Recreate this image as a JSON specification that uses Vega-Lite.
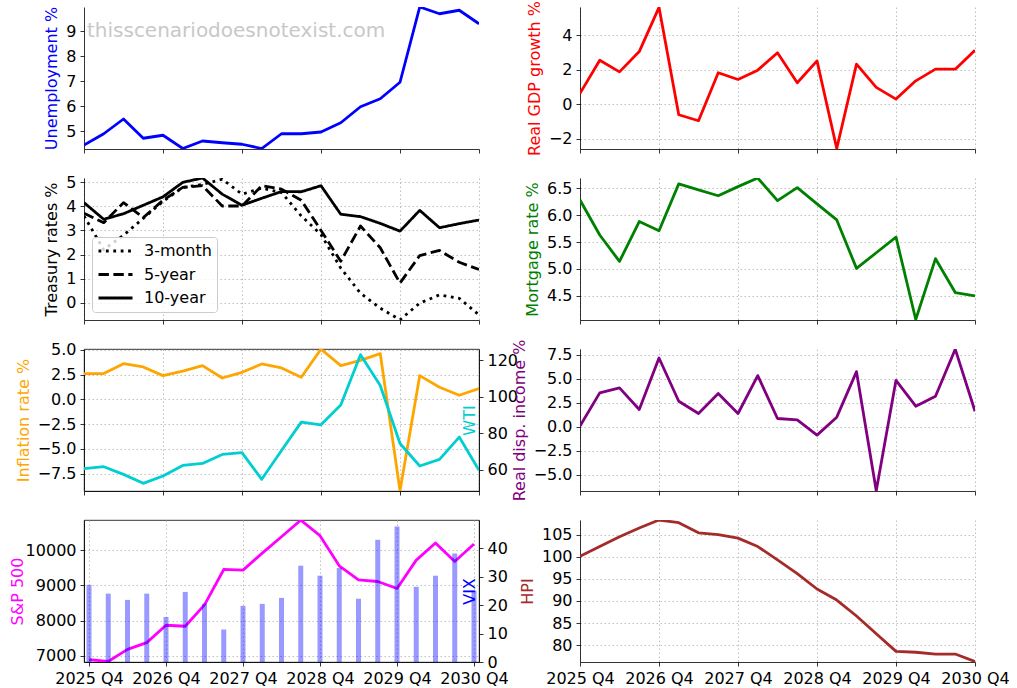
{
  "$schema": "https://vega.github.io/schema/vega-lite/v6.json",
  "padding": {"left": 8, "top": 0, "right": 5, "bottom": 5},
  "background": "white",
  "columns": 2,
  "spacing": {"row": 29, "column": 101},
  "bounds": "flush",
  "resolve": {"legend": {"strokeDash": "independent"}, "scale": {"strokeDash": "independent"}},
  "datasets": {
    "macro": [
      {"q": 0, "unemp": 4.44, "gdp": 0.62, "mort": 6.28, "infl": 2.59, "wti": 60.7, "rdi": 0.06, "sp": 6896, "vix": 27.1, "hpi": 100.1},
      {"q": 1, "unemp": 4.89, "gdp": 2.55, "mort": 5.63, "infl": 2.59, "wti": 61.8, "rdi": 3.52, "sp": 6845, "vix": 24.0, "hpi": 102.3},
      {"q": 2, "unemp": 5.48, "gdp": 1.87, "mort": 5.14, "infl": 3.59, "wti": 57.6, "rdi": 4.04, "sp": 7189, "vix": 21.8, "hpi": 104.5},
      {"q": 3, "unemp": 4.71, "gdp": 3.05, "mort": 5.88, "infl": 3.26, "wti": 52.7, "rdi": 1.79, "sp": 7379, "vix": 24.0, "hpi": 106.5},
      {"q": 4, "unemp": 4.83, "gdp": 5.62, "mort": 5.71, "infl": 2.39, "wti": 56.7, "rdi": 7.15, "sp": 7871, "vix": 15.8, "hpi": 108.3},
      {"q": 5, "unemp": 4.3, "gdp": -0.62, "mort": 6.58, "infl": 2.85, "wti": 62.5, "rdi": 2.65, "sp": 7842, "vix": 24.6, "hpi": 107.7},
      {"q": 6, "unemp": 4.6, "gdp": -0.97, "mort": 6.47, "infl": 3.39, "wti": 63.6, "rdi": 1.37, "sp": 8448, "vix": 20.5, "hpi": 105.4},
      {"q": 7, "unemp": 4.53, "gdp": 1.82, "mort": 6.36, "infl": 2.15, "wti": 68.5, "rdi": 3.45, "sp": 9451, "vix": 11.4, "hpi": 105.0},
      {"q": 8, "unemp": 4.47, "gdp": 1.43, "mort": 6.53, "infl": 2.72, "wti": 69.5, "rdi": 1.37, "sp": 9432, "vix": 19.7, "hpi": 104.2},
      {"q": 9, "unemp": 4.3, "gdp": 1.97, "mort": 6.69, "infl": 3.56, "wti": 54.9, "rdi": 5.32, "sp": 9915, "vix": 20.4, "hpi": 102.3},
      {"q": 10, "unemp": 4.89, "gdp": 2.98, "mort": 6.27, "infl": 3.16, "wti": 70.7, "rdi": 0.85, "sp": 10379, "vix": 22.5, "hpi": 99.3},
      {"q": 11, "unemp": 4.89, "gdp": 1.24, "mort": 6.51, "infl": 2.22, "wti": 86.2, "rdi": 0.71, "sp": 10848, "vix": 33.8, "hpi": 96.2},
      {"q": 12, "unemp": 4.96, "gdp": 2.51, "mort": 6.21, "infl": 5.05, "wti": 84.7, "rdi": -0.88, "sp": 10407, "vix": 30.3, "hpi": 92.7},
      {"q": 13, "unemp": 5.33, "gdp": -2.58, "mort": 5.91, "infl": 3.39, "wti": 95.6, "rdi": 0.99, "sp": 9555, "vix": 33.0, "hpi": 90.2},
      {"q": 14, "unemp": 5.97, "gdp": 2.32, "mort": 5.01, "infl": 3.93, "wti": 123.1, "rdi": 5.73, "sp": 9158, "vix": 22.2, "hpi": 86.6},
      {"q": 15, "unemp": 6.29, "gdp": 0.97, "mort": 5.3, "infl": 4.6, "wti": 106.2, "rdi": -6.68, "sp": 9110, "vix": 42.9, "hpi": 82.6},
      {"q": 16, "unemp": 6.95, "gdp": 0.29, "mort": 5.59, "infl": -9.22, "wti": 74.5, "rdi": 4.83, "sp": 8912, "vix": 47.6, "hpi": 78.6},
      {"q": 17, "unemp": 9.96, "gdp": 1.35, "mort": 4.06, "infl": 2.39, "wti": 62.2, "rdi": 2.13, "sp": 9716, "vix": 26.4, "hpi": 78.4},
      {"q": 18, "unemp": 9.69, "gdp": 2.03, "mort": 5.19, "infl": 1.21, "wti": 65.8, "rdi": 3.17, "sp": 10199, "vix": 30.3, "hpi": 78.0},
      {"q": 19, "unemp": 9.83, "gdp": 2.03, "mort": 4.56, "infl": 0.41, "wti": 78.0, "rdi": 8.07, "sp": 9678, "vix": 38.1, "hpi": 78.0},
      {"q": 20, "unemp": 9.29, "gdp": 3.13, "mort": 4.5, "infl": 1.08, "wti": 59.8, "rdi": 1.61, "sp": 10170, "vix": 25.0, "hpi": 76.3}
    ],
    "treasury": [
      {"q": 0, "tenor": "3-month", "rate": 3.6}, {"q": 1, "tenor": "3-month", "rate": 2.2}, {"q": 2, "tenor": "3-month", "rate": 2.8},
      {"q": 3, "tenor": "3-month", "rate": 3.5}, {"q": 4, "tenor": "3-month", "rate": 4.2}, {"q": 5, "tenor": "3-month", "rate": 4.78},
      {"q": 6, "tenor": "3-month", "rate": 4.9}, {"q": 7, "tenor": "3-month", "rate": 5.12}, {"q": 8, "tenor": "3-month", "rate": 4.5},
      {"q": 9, "tenor": "3-month", "rate": 4.75}, {"q": 10, "tenor": "3-month", "rate": 4.57}, {"q": 11, "tenor": "3-month", "rate": 3.6},
      {"q": 12, "tenor": "3-month", "rate": 2.83}, {"q": 13, "tenor": "3-month", "rate": 1.44}, {"q": 14, "tenor": "3-month", "rate": 0.4},
      {"q": 15, "tenor": "3-month", "rate": -0.22}, {"q": 16, "tenor": "3-month", "rate": -0.7}, {"q": 17, "tenor": "3-month", "rate": -0.01},
      {"q": 18, "tenor": "3-month", "rate": 0.33}, {"q": 19, "tenor": "3-month", "rate": 0.19}, {"q": 20, "tenor": "3-month", "rate": -0.5},
      {"q": 0, "tenor": "5-year", "rate": 3.71}, {"q": 1, "tenor": "5-year", "rate": 3.32}, {"q": 2, "tenor": "5-year", "rate": 4.15},
      {"q": 3, "tenor": "5-year", "rate": 3.53}, {"q": 4, "tenor": "5-year", "rate": 4.25}, {"q": 5, "tenor": "5-year", "rate": 4.78},
      {"q": 6, "tenor": "5-year", "rate": 4.85}, {"q": 7, "tenor": "5-year", "rate": 4.01}, {"q": 8, "tenor": "5-year", "rate": 4.01},
      {"q": 9, "tenor": "5-year", "rate": 4.85}, {"q": 10, "tenor": "5-year", "rate": 4.71}, {"q": 11, "tenor": "5-year", "rate": 4.25},
      {"q": 12, "tenor": "5-year", "rate": 3.0}, {"q": 13, "tenor": "5-year", "rate": 1.72}, {"q": 14, "tenor": "5-year", "rate": 3.18},
      {"q": 15, "tenor": "5-year", "rate": 2.28}, {"q": 16, "tenor": "5-year", "rate": 0.82}, {"q": 17, "tenor": "5-year", "rate": 1.96},
      {"q": 18, "tenor": "5-year", "rate": 2.17}, {"q": 19, "tenor": "5-year", "rate": 1.68}, {"q": 20, "tenor": "5-year", "rate": 1.38},
      {"q": 0, "tenor": "10-year", "rate": 4.15}, {"q": 1, "tenor": "10-year", "rate": 3.46}, {"q": 2, "tenor": "10-year", "rate": 3.69},
      {"q": 3, "tenor": "10-year", "rate": 4.04}, {"q": 4, "tenor": "10-year", "rate": 4.39}, {"q": 5, "tenor": "10-year", "rate": 4.99},
      {"q": 6, "tenor": "10-year", "rate": 5.17}, {"q": 7, "tenor": "10-year", "rate": 4.5}, {"q": 8, "tenor": "10-year", "rate": 4.04},
      {"q": 9, "tenor": "10-year", "rate": 4.33}, {"q": 10, "tenor": "10-year", "rate": 4.61}, {"q": 11, "tenor": "10-year", "rate": 4.6},
      {"q": 12, "tenor": "10-year", "rate": 4.85}, {"q": 13, "tenor": "10-year", "rate": 3.67}, {"q": 14, "tenor": "10-year", "rate": 3.57},
      {"q": 15, "tenor": "10-year", "rate": 3.29}, {"q": 16, "tenor": "10-year", "rate": 2.97}, {"q": 17, "tenor": "10-year", "rate": 3.83},
      {"q": 18, "tenor": "10-year", "rate": 3.11}, {"q": 19, "tenor": "10-year", "rate": 3.28}, {"q": 20, "tenor": "10-year", "rate": 3.43}
    ],
    "watermark": [{"label": "thisscenariodoesnotexist.com"}]
  },
  "concat": [
    {
      "width": 395, "height": 142,
      "layer": [
        {
          "data": {"name": "watermark"},
          "mark": {"type": "text", "align": "left", "baseline": "middle", "fontSize": 20, "font": "DejaVu Sans", "color": "#c8c8c8"},
          "encoding": {
            "x": {"datum": 0.15, "type": "quantitative", "scale": {"domain": [0, 20], "nice": false, "zero": false}, "axis": {"values": [0, 4, 8, 12, 16, 20], "labels": false, "title": null}},
            "y": {"datum": 9.0, "type": "quantitative", "scale": {"domain": [4.28, 9.96], "nice": false, "zero": false}, "axis": {"values": [5, 6, 7, 8, 9], "title": "Unemployment %", "titleColor": "blue"}},
            "text": {"field": "label"}
          }
        },
        {
          "data": {"name": "macro"},
          "mark": {"type": "line", "color": "blue", "strokeWidth": 2.8, "clip": true, "strokeJoin": "round"},
          "encoding": {
            "x": {"field": "q", "type": "quantitative", "scale": {"domain": [0, 20], "nice": false, "zero": false}, "axis": {"values": [0, 4, 8, 12, 16, 20], "labels": false, "title": null}},
            "y": {"field": "unemp", "type": "quantitative", "scale": {"domain": [4.28, 9.96], "nice": false, "zero": false}, "axis": {"values": [5, 6, 7, 8, 9], "title": "Unemployment %", "titleColor": "blue"}}
          }
        }
      ]
    },
    {
      "width": 395, "height": 142,
      "data": {"name": "macro"},
      "mark": {"type": "line", "color": "red", "strokeWidth": 2.8, "clip": true, "strokeJoin": "round"},
      "encoding": {
        "x": {"field": "q", "type": "quantitative", "scale": {"domain": [0, 20], "nice": false, "zero": false}, "axis": {"values": [0, 4, 8, 12, 16, 20], "labels": false, "title": null}},
        "y": {"field": "gdp", "type": "quantitative", "scale": {"domain": [-2.61, 5.64], "nice": false, "zero": false}, "axis": {"values": [-2, 0, 2, 4], "title": "Real GDP growth %", "titleColor": "red"}}
      }
    },
    {
      "width": 395, "height": 142,
      "data": {"name": "treasury"},
      "mark": {"type": "line", "color": "black", "strokeWidth": 2.8, "clip": true, "strokeJoin": "round"},
      "encoding": {
        "x": {"field": "q", "type": "quantitative", "scale": {"domain": [0, 20], "nice": false, "zero": false}, "axis": {"values": [0, 4, 8, 12, 16, 20], "labels": false, "title": null}},
        "y": {"field": "rate", "type": "quantitative", "scale": {"domain": [-0.71, 5.17], "nice": false, "zero": false}, "axis": {"values": [0, 1, 2, 3, 4, 5], "title": "Treasury rates %", "titleColor": "black"}},
        "strokeDash": {
          "field": "tenor", "type": "nominal",
          "scale": {"domain": ["3-month", "5-year", "10-year"], "range": [[2.8, 4.6], [10.4, 4.5], [1, 0]]},
          "legend": {
            "title": null, "orient": "bottom-left", "offset": 8, "padding": 5,
            "symbolType": "stroke", "symbolSize": 1156, "symbolStrokeWidth": 2.8, "symbolStrokeColor": "black",
            "labelFontSize": 16, "labelFont": "DejaVu Sans", "labelColor": "black", "labelOffset": 10,
            "clipHeight": 18, "rowPadding": 5.5,
            "strokeColor": "#cccccc", "fillColor": "rgba(255,255,255,0.8)", "cornerRadius": 3
          }
        }
      }
    },
    {
      "width": 395, "height": 142,
      "data": {"name": "macro"},
      "mark": {"type": "line", "color": "green", "strokeWidth": 2.8, "clip": true, "strokeJoin": "round"},
      "encoding": {
        "x": {"field": "q", "type": "quantitative", "scale": {"domain": [0, 20], "nice": false, "zero": false}, "axis": {"values": [0, 4, 8, 12, 16, 20], "labels": false, "title": null}},
        "y": {"field": "mort", "type": "quantitative", "scale": {"domain": [4.05, 6.69], "nice": false, "zero": false}, "axis": {"values": [4.5, 5, 5.5, 6, 6.5], "format": ".1f", "title": "Mortgage rate %", "titleColor": "green"}}
      }
    },
    {
      "width": 395, "height": 142,
      "data": {"name": "macro"},
      "view": {"stroke": "black", "strokeWidth": 0.8},
      "layer": [
        {
          "mark": {"type": "line", "color": "orange", "strokeWidth": 2.8, "clip": true, "strokeJoin": "round"},
          "encoding": {
            "x": {"field": "q", "type": "quantitative", "scale": {"domain": [0, 20], "nice": false, "zero": false}, "axis": {"values": [0, 4, 8, 12, 16, 20], "labels": false, "title": null}},
            "y": {"field": "infl", "type": "quantitative", "scale": {"domain": [-9.24, 5.07], "nice": false, "zero": false}, "axis": {"values": [-7.5, -5, -2.5, 0, 2.5, 5], "format": ".1f", "title": "Inflation rate %", "titleColor": "orange"}}
          }
        },
        {
          "mark": {"type": "line", "color": "darkturquoise", "strokeWidth": 2.8, "clip": true, "strokeJoin": "round"},
          "encoding": {
            "x": {"field": "q", "type": "quantitative"},
            "y": {"field": "wti", "type": "quantitative", "scale": {"domain": [48.5, 126.2], "nice": false, "zero": false}, "axis": {"orient": "right", "grid": false, "values": [60, 80, 100, 120], "title": "WTI", "titleColor": "darkturquoise", "titleAngle": 270, "titleX": -10, "titleY": 71, "titleBaseline": "middle", "titleAlign": "center"}}
          }
        }
      ],
      "resolve": {"scale": {"y": "independent"}}
    },
    {
      "width": 395, "height": 142,
      "data": {"name": "macro"},
      "mark": {"type": "line", "color": "purple", "strokeWidth": 2.8, "clip": true, "strokeJoin": "round"},
      "encoding": {
        "x": {"field": "q", "type": "quantitative", "scale": {"domain": [0, 20], "nice": false, "zero": false}, "axis": {"values": [0, 4, 8, 12, 16, 20], "labels": false, "title": null}},
        "y": {"field": "rdi", "type": "quantitative", "scale": {"domain": [-6.7, 8.09], "nice": false, "zero": false}, "axis": {"values": [-5, -2.5, 0, 2.5, 5, 7.5], "format": ".1f", "title": "Real disp. income %", "titleColor": "purple"}}
      }
    },
    {
      "width": 395, "height": 142,
      "data": {"name": "macro"},
      "view": {"stroke": "black", "strokeWidth": 0.8},
      "layer": [
        {
          "mark": {"type": "line", "color": "magenta", "strokeWidth": 2.8, "clip": true, "strokeJoin": "round"},
          "encoding": {
            "x": {"field": "q", "type": "quantitative", "scale": {"domain": [0, 20], "nice": false, "zero": false}, "axis": {"values": [0, 4, 8, 12, 16, 20], "title": null, "labelExpr": "(2025 + datum.value / 4) + ' Q4'"}},
            "y": {"field": "sp", "type": "quantitative", "scale": {"domain": [6830, 10852], "nice": false, "zero": false}, "axis": {"values": [7000, 8000, 9000, 10000], "format": "d", "title": "S&P 500", "titleColor": "magenta", "titlePadding": 0}}
          }
        },
        {
          "mark": {"type": "bar", "color": "blue", "opacity": 0.4, "width": 5},
          "encoding": {
            "x": {"field": "q", "type": "quantitative"},
            "y": {"field": "vix", "type": "quantitative", "scale": {"domain": [0, 49.85], "nice": false}, "axis": {"orient": "right", "grid": false, "values": [0, 10, 20, 30, 40], "title": "VIX", "titleColor": "blue", "titleAngle": 270, "titleX": -10, "titleY": 71, "titleBaseline": "middle", "titleAlign": "center"}}
          }
        }
      ],
      "resolve": {"scale": {"y": "independent"}}
    },
    {
      "width": 395, "height": 142,
      "data": {"name": "macro"},
      "mark": {"type": "line", "color": "brown", "strokeWidth": 2.8, "clip": true, "strokeJoin": "round"},
      "encoding": {
        "x": {"field": "q", "type": "quantitative", "scale": {"domain": [0, 20], "nice": false, "zero": false}, "axis": {"values": [0, 4, 8, 12, 16, 20], "title": null, "labelExpr": "(2025 + datum.value / 4) + ' Q4'"}},
        "y": {"field": "hpi", "type": "quantitative", "scale": {"domain": [76.2, 108.3], "nice": false, "zero": false}, "axis": {"values": [80, 85, 90, 95, 100, 105], "title": "HPI", "titleColor": "brown"}}
      }
    }
  ],
  "config": {
    "view": {"stroke": null},
    "font": "DejaVu Sans",
    "axis": {
      "labelFont": "DejaVu Sans", "labelFontSize": 16, "labelColor": "black",
      "titleFont": "DejaVu Sans", "titleFontSize": 16, "titleFontWeight": "normal",
      "domainColor": "black", "domainWidth": 0.8, "tickColor": "black", "tickWidth": 0.8, "tickSize": 4,
      "labelPadding": 4, "titlePadding": 6,
      "gridColor": "#b0b0b0", "gridDash": [1.5, 2.5], "gridWidth": 0.8,
      "labelFlush": false, "labelOverlap": false
    }
  }
}
